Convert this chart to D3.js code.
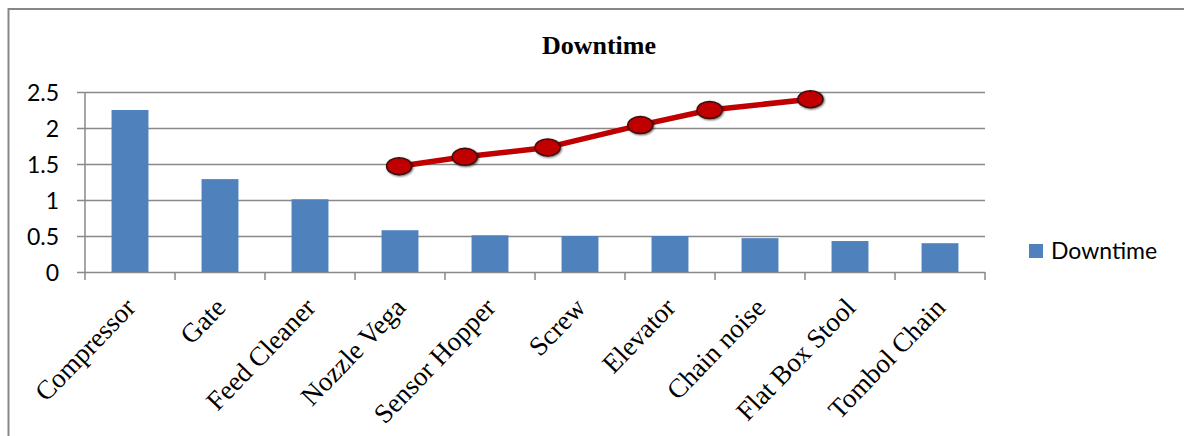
<!DOCTYPE html>
<html>
<head>
<meta charset="utf-8">
<script src="https://cdn.jsdelivr.net/npm/d3@7"></script>
<style>
  html, body { margin: 0; padding: 0; background: #fff; }
  svg { display: block; }
</style>
</head>
<body>
<svg id="chart" width="1184" height="436"></svg>
<script>
// Downtime per component
const categories = ["Compressor", "Gate", "Feed Cleaner", "Nozzle Vega", "Sensor Hopper",
                    "Screw", "Elevator", "Chain noise", "Flat Box Stool", "Tombol Chain"];
const downtime = [2.25, 1.29, 1.01, 0.58, 0.51, 0.50, 0.50, 0.47, 0.43, 0.40];

// Trend line: position along the category axis (0 = first category centre) and value
const trendPos = [2.99, 3.72, 4.64, 5.67, 6.44, 7.56];
const trendVal = [1.47, 1.60, 1.73, 2.04, 2.25, 2.40];

const yTicks = [0, 0.5, 1, 1.5, 2, 2.5];
const yTickLabels = ["0", "0.5", "1", "1.5", "2", "2.5"];
const chartTitle = "Downtime";
const legendLabel = "Downtime";

const svg = d3.select("#chart");
const W = 1184, H = 436;
const plot = { left: 85, right: 985, top: 92, bottom: 272 };

const gridColor = "#898989";
const barColor = "#4F81BD";
const lineColor = "#C00000";

// Outer frame (top and left edges visible)
svg.append("path")
  .attr("d", `M8.5,${H} L8.5,9 L${W},9`)
  .attr("fill", "none")
  .attr("stroke", "#878787")
  .attr("stroke-width", 2);

// Title
svg.append("text")
  .attr("x", 599).attr("y", 54)
  .attr("text-anchor", "middle")
  .attr("font-family", "'Liberation Serif', 'Times New Roman', serif")
  .attr("font-weight", "bold")
  .attr("font-size", 26)
  .text(chartTitle);

const x = d3.scaleBand().domain(categories).range([plot.left, plot.right]).padding(0);
// continuous category axis: 0 at the first category centre
const xPos = d3.scaleLinear()
  .domain([-0.5, categories.length - 0.5])
  .range([plot.left, plot.right]);
const y = d3.scaleLinear().domain([0, 2.5]).range([plot.bottom, plot.top]);

// Horizontal gridlines with short ticks to the left
const yAxis = d3.axisLeft(y)
  .tickValues(yTicks)
  .tickSize(-(plot.right - plot.left))
  .tickFormat((d, i) => yTickLabels[i]);
const gy = svg.append("g").attr("transform", `translate(${plot.left},0)`).call(yAxis);
gy.select(".domain").remove();
gy.selectAll(".tick line").attr("stroke", gridColor).attr("stroke-width", 1.5).attr("x2", plot.right - plot.left).attr("x1", -8);
gy.selectAll(".tick text")
  .attr("x", -26)
  .attr("dy", "0.36em")
  .attr("fill", "#000")
  .attr("font-family", "Lato, 'Open Sans', sans-serif")
  .attr("font-size", 23);

// Vertical axis line
svg.append("line")
  .attr("x1", plot.left).attr("x2", plot.left)
  .attr("y1", plot.top).attr("y2", plot.bottom)
  .attr("stroke", gridColor).attr("stroke-width", 1.5);

// Category axis: ticks at category boundaries
const boundaries = d3.range(categories.length + 1).map(d => d - 0.5);
svg.append("g").selectAll("line")
  .data(boundaries)
  .join("line")
  .attr("x1", d => xPos(d)).attr("x2", d => xPos(d))
  .attr("y1", plot.bottom).attr("y2", plot.bottom + 8)
  .attr("stroke", gridColor).attr("stroke-width", 1.5);

// Bars
const barW = x.bandwidth() * 0.41;
svg.append("g").selectAll("rect")
  .data(downtime)
  .join("rect")
  .attr("x", (d, i) => x(categories[i]) + x.bandwidth() / 2 - barW / 2)
  .attr("y", d => y(d))
  .attr("width", barW)
  .attr("height", d => y(0) - y(d))
  .attr("fill", barColor);

// Category labels, rotated
svg.append("g").selectAll("text")
  .data(categories)
  .join("text")
  .attr("transform", d => `translate(${x(d) + x.bandwidth() / 2 + 7},${plot.bottom + 37}) rotate(-46)`)
  .attr("text-anchor", "end")
  .attr("font-family", "'Liberation Serif', 'Times New Roman', serif")
  .attr("font-size", 27)
  .attr("fill", "#000")
  .text(d => d);

// Trend line with markers
const defs = svg.append("defs");
const shadow = defs.append("filter").attr("id", "mshadow").attr("x", "-50%").attr("y", "-50%").attr("width", "200%").attr("height", "200%");
shadow.append("feGaussianBlur").attr("in", "SourceAlpha").attr("stdDeviation", 1.2).attr("result", "b");
shadow.append("feOffset").attr("in", "b").attr("dx", 1).attr("dy", 1).attr("result", "o");
shadow.append("feComponentTransfer").attr("in", "o").attr("result", "s")
  .append("feFuncA").attr("type", "linear").attr("slope", 0.6);
const merge = shadow.append("feMerge");
merge.append("feMergeNode").attr("in", "s");
merge.append("feMergeNode").attr("in", "SourceGraphic");

const pts = trendPos.map((p, i) => [xPos(p), y(trendVal[i])]);
svg.append("path")
  .datum(pts)
  .attr("d", d3.line())
  .attr("fill", "none")
  .attr("stroke", lineColor)
  .attr("stroke-width", 5.5)
  .attr("stroke-linejoin", "round");

svg.append("g").selectAll("ellipse")
  .data(pts)
  .join("ellipse")
  .attr("cx", d => d[0]).attr("cy", d => d[1])
  .attr("rx", 12.5).attr("ry", 8.5)
  .attr("fill", lineColor)
  .attr("stroke", "#3b0b0b")
  .attr("stroke-width", 1.5)
  .attr("filter", "url(#mshadow)");

// Legend
const lg = svg.append("g").attr("transform", "translate(1029,244)");
lg.append("rect").attr("width", 14).attr("height", 14).attr("fill", barColor);
lg.append("text")
  .attr("x", 22).attr("y", 15)
  .attr("font-family", "Lato, 'Open Sans', sans-serif")
  .attr("font-size", 23)
  .attr("fill", "#000")
  .text(legendLabel);
</script>
</body>
</html>
